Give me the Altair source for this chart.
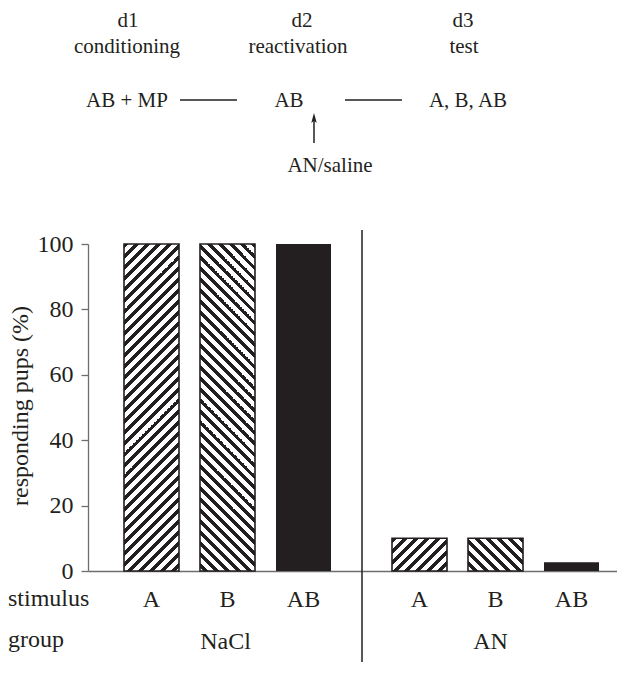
import altair as alt
import pandas as pd

# ---------------- data ----------------
groups = ["NaCl", "NaCl", "NaCl", "AN", "AN", "AN"]
stimuli = ["A", "B", "AB", "A", "B", "AB"]
responding = [100, 100, 100, 10, 10, 2.7]
stim_order = ["A", "B", "AB"]
y_ticks = [0, 20, 40, 60, 80, 100]

days = ["d1", "d2", "d3"]
phases = ["conditioning", "reactivation", "test"]
day_stimuli = ["AB + MP", "AB", "A, B, AB"]
injection = "AN/saline"

# ---------------- style ----------------
FONT = "Liberation Serif"
INK = "#231f20"
AXIS = "#6d6e71"
PLOT_H = 327
BAND = 55
STEP = 76
PAD_INNER = 1 - BAND / STEP
panel_width = {"NaCl": 274, "AN": 256}
panel_start = {"NaCl": 36, "AN": 30}

df = pd.DataFrame({"group": groups, "stimulus": stimuli, "responding": responding})


def hatch(value, direction, period=11.0, black=0.44):
    w = BAND
    h = max(value / 100 * PLOT_H, 1)
    L = w + h
    c = L / (w * w + h * h)
    a, b = c * w, c * h
    stops = []
    i = 0
    while i * period / L < 1:
        s = i * period / L
        e = min((i + black) * period / L, 1)
        n = min((i + 1) * period / L, 1)
        stops += [
            {"offset": s, "color": INK},
            {"offset": e, "color": INK},
            {"offset": e, "color": "white"},
            {"offset": n, "color": "white"},
        ]
        i += 1
    if direction == "/":
        x1, y1, x2, y2 = 0, 0, a, b
    else:
        x1, y1, x2, y2 = 1, 0, 1 - a, b
    return {"gradient": "linear", "x1": x1, "y1": y1, "x2": x2, "y2": y2, "stops": stops}


one = pd.DataFrame({"t": [0]})


def txt(label, x, y, size=21, align="center"):
    return (
        alt.Chart(pd.DataFrame({"t": [label]}))
        .mark_text(font=FONT, fontSize=size, color=INK, align=align, baseline="alphabetic")
        .encode(text="t:N", x=alt.value(x), y=alt.value(y))
    )


def schematic():
    lay = []
    for lab, xx in zip(days, [40, 214, 375]):
        lay.append(txt(lab, xx, -217))
    for lab, xx in zip(phases, [39, 210, 376]):
        lay.append(txt(lab, xx, -191))
    for lab, xx in zip(day_stimuli, [39, 201, 380]):
        lay.append(txt(lab, xx, -137))
    lay.append(txt(injection, 242, -72))
    for x1, x2 in [(92, 149), (257, 314)]:
        lay.append(
            alt.Chart(one).mark_rule(color=INK, strokeWidth=1.5)
            .encode(x=alt.value(x1), x2=alt.value(x2), y=alt.value(-144))
        )
    lay.append(
        alt.Chart(one).mark_rule(color=INK, strokeWidth=1.5)
        .encode(x=alt.value(226), y=alt.value(-128), y2=alt.value(-101))
    )
    lay.append(
        alt.Chart(one).mark_point(shape="M0,-1L0.55,1L0,0.55L-0.55,1Z", filled=True,
                                  color=INK, opacity=1, size=100)
        .encode(x=alt.value(226), y=alt.value(-126))
    )
    return lay


def panel(g, first):
    W = panel_width[g]
    po = (W / STEP - 3 + PAD_INNER) / 2
    align = panel_start[g] / (W - STEP * (3 - PAD_INNER))
    sub = df[df.group == g]
    x = alt.X(
        "stimulus:N",
        sort=stim_order,
        scale=alt.Scale(domain=stim_order, paddingInner=PAD_INNER, paddingOuter=po, align=align),
        axis=alt.Axis(
            title=g, titleY=77, titleBaseline="alphabetic", titleFontSize=24,
            titleFontWeight="normal", titleColor=INK, titleFont=FONT,
            labelFont=FONT, labelFontSize=24, labelColor=INK, labelAngle=0,
            labelPadding=35, labelBaseline="alphabetic",
            ticks=False, tickSize=0, domainColor=AXIS, domainWidth=1.3,
        ),
    )
    yaxis = alt.Axis(
        values=y_ticks, title="responding pups (%)", titleX=-68, titleY=PLOT_H / 2 - 2,
        titleAngle=270, titleBaseline="middle", titleAlign="center",
        titleFont=FONT, titleFontSize=24, titleFontWeight="normal", titleColor=INK,
        labelFont=FONT, labelFontSize=24, labelColor=INK, labelPadding=8,
        tickSize=7, tickColor=AXIS, tickWidth=1.3, domainColor=AXIS, domainWidth=1.3,
        grid=False,
    )
    y = alt.Y("responding:Q", scale=alt.Scale(domain=[0, 100], nice=False),
              axis=yaxis if first else None)
    layers = []
    for s, d in [("A", "/"), ("B", "\\")]:
        row = sub[sub.stimulus == s]
        layers.append(
            alt.Chart(row).mark_bar(fill=hatch(row.responding.iloc[0], d), stroke=INK, strokeWidth=1.6)
            .encode(x=x, y=y)
        )
    layers.append(alt.Chart(sub[sub.stimulus == "AB"]).mark_bar(fill=INK).encode(x=x, y=y))
    if first:
        layers.append(txt("stimulus", -80, 362, size=24, align="left"))
        layers.append(txt("group", -80, 403, size=24, align="left"))
        layers += schematic()
    else:
        layers.append(
            alt.Chart(one).mark_rule(color=INK, strokeWidth=1.5)
            .encode(x=alt.value(0), y=alt.value(-14), y2=alt.value(418))
        )
    return alt.layer(*layers).properties(width=W, height=PLOT_H)


chart = (
    alt.hconcat(panel("NaCl", True), panel("AN", False), spacing=0, bounds="flush")
    .properties(padding={"left": 0, "top": 2, "right": -1, "bottom": 0})
    .configure_view(stroke=None)
)

chart.save("out.html", embed_options={"renderer": "svg", "actions": False})
